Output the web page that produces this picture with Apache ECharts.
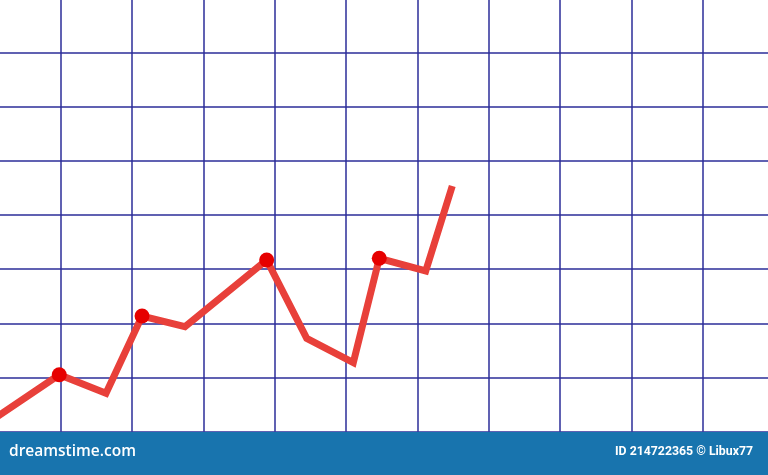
<!DOCTYPE html>
<html>
<head>
<meta charset="utf-8">
<script src="https://cdn.jsdelivr.net/npm/echarts@6/dist/echarts.min.js"></script>
<style>
  html, body { margin: 0; padding: 0; background: #fff; }
  #chart { width: 768px; height: 475px; }
</style>
</head>
<body>
<div id="chart"></div>
<script>
// points of the red line, in grid-cell units
const xValues = [0, 0.98, 1.635, 2.14, 2.742, 3.887, 4.448, 5.101, 5.465, 6.116, 6.488];
const yValues = [0.18, 1.05, 0.71, 2.135, 1.937, 3.168, 1.723, 1.273, 3.199, 2.965, 4.533];
// which points carry a dot
const dotFlags = [0, 1, 0, 1, 0, 1, 0, 0, 1, 0, 0];

const footerLeft = "dreamstime.com";
const footerRight = "ID 214722365 \u00a9 Libux77";

const gridColor = '#2b2d98';

var lineData = [];
for (var i = 0; i < xValues.length; i++) {
    lineData.push({
        value: [xValues[i], yValues[i]],
        symbol: dotFlags[i] ? 'circle' : 'none'
    });
}

var chart = echarts.init(document.getElementById('chart'));
option = {
    backgroundColor: '#ffffff',
    animation: false,
    grid: {
        left: -10.65,
        top: -1.9,
        width: 784.85,
        height: 433.6,
        outerBoundsMode: 'none',
        containLabel: false
    },
    xAxis: {
        type: 'value',
        min: 0,
        max: 11,
        interval: 1,
        axisLine: { show: false },
        axisTick: { show: false },
        axisLabel: { show: false },
        splitLine: { lineStyle: { color: gridColor, width: 1.5 } }
    },
    yAxis: {
        type: 'value',
        min: 0,
        max: 8,
        interval: 1,
        axisLine: { show: false },
        axisTick: { show: false },
        axisLabel: { show: false },
        splitLine: { lineStyle: { color: gridColor, width: 1.5 } }
    },
    series: [
        {
            type: 'line',
            data: lineData,
            symbolSize: 15,
            lineStyle: {
                color: '#e8403a',
                width: 7,
                join: 'miter'
            },
            itemStyle: {
                color: '#e60000'
            },
            z: 3
        }
    ],
    graphic: [
        {
            type: 'rect',
            left: 0,
            top: 432,
            shape: { width: 768, height: 43 },
            style: { fill: '#1874ae' },
            z: 10
        },
        {
            type: 'text',
            left: 9,
            top: 444,
            style: {
                text: footerLeft,
                fill: '#ffffff',
                font: '600 15.5px "Open Sans", sans-serif'
            },
            z: 11
        },
        {
            type: 'text',
            right: 15,
            top: 446,
            style: {
                text: footerRight,
                fill: '#ffffff',
                font: 'bold 12.3px Roboto, sans-serif'
            },
            z: 11
        }
    ]
};
chart.setOption(option);
</script>
</body>
</html>
